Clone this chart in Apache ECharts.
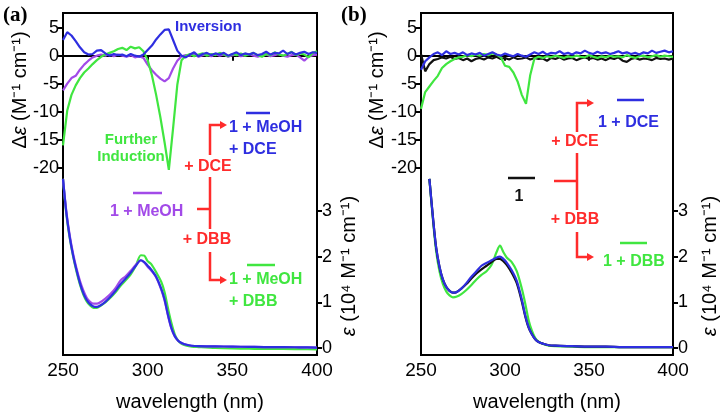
<!DOCTYPE html>
<html><head><meta charset="utf-8">
<script src="https://cdn.jsdelivr.net/npm/echarts@6/dist/echarts.min.js"></script>
<style>html,body{margin:0;padding:0;background:#fff}#c{width:721px;height:419px}</style>
</head><body><div id="c"></div>
<script>
// ---------- DATA ----------
const cdWl = [250,252.5,255,257.5,260,262.5,265,267.5,270,272.5,275,277.5,280,282.5,285,287.5,290,292.5,295,297.5,300,302.5,305,307.5,310,312.5,315,317.5,320,322.5,325,327.5,330,332.5,335,337.5,340,342.5,345,347.5,350,352.5,355,357.5,360,362.5,365,367.5,370,372.5,375,377.5,380,382.5,385,387.5,390,392.5,395,397.5,400];

// panel (a) CD
const cdA_MeOH = [-6.2,-5.0,-4.0,-3.6,-2.5,-1.6,-0.9,-0.3,0.0,0.2,0.0,0.3,-0.1,0.2,0.0,-0.2,0.1,-0.3,-0.1,-0.4,-1.6,-2.6,-3.4,-4.1,-4.6,-4.0,-2.3,-0.9,-0.1,0.1,0.0,0.3,-0.2,0.1,0.2,-0.1,0.3,0.0,0.2,-0.2,0.1,0.2,-0.1,0.1,0.3,0.0,-0.2,0.1,0.2,-0.1,0.1,0.3,0.0,-0.2,0.1,0.2,-0.3,-0.9,-0.2,0.1,0.2];
const cdA_DBB = [-16.0,-9.8,-7.0,-5.3,-4.0,-3.0,-2.3,-1.5,-0.8,-0.2,0.2,0.5,0.8,1.2,1.4,1.0,1.6,1.3,1.5,0.8,-0.8,-3.5,-7.0,-11.0,-15.5,-20.4,-13.0,-5.2,-0.8,0.0,0.3,-0.1,0.2,0.4,0.0,0.3,0.1,0.5,0.2,-0.1,0.3,0.1,0.4,0.0,0.2,0.5,0.1,-0.2,0.3,0.1,0.6,0.2,0.0,0.3,0.7,0.1,0.4,0.2,-0.3,0.5,0.8];
const cdA_DCE = [2.8,4.2,3.6,2.6,1.5,0.6,0.2,0.3,0.9,1.0,0.4,0.0,0.3,0.1,0.2,-0.1,0.3,0.0,-0.2,0.2,1.0,1.8,2.9,3.8,4.6,4.7,2.8,0.9,0.0,-0.3,0.2,0.6,-0.1,0.3,0.5,0.1,0.4,0.2,0.5,0.0,0.3,0.6,0.1,0.4,0.2,0.5,0.1,0.3,0.7,0.2,0.5,0.4,0.9,0.3,0.6,0.2,0.5,0.7,0.3,0.6,0.5];

// panel (b) CD
const cdB_1 = [0.3,-2.8,-1.5,-0.8,-0.6,-0.3,-0.5,-0.2,-0.6,-0.4,-0.8,-0.5,-1.0,-0.6,-0.4,-0.7,-0.3,-0.5,-0.2,-0.6,-0.4,-0.7,-0.3,-0.6,-0.5,-0.3,-0.7,-0.4,-0.6,-0.5,-0.9,-0.4,-0.6,-0.3,-0.7,-0.5,-0.4,-0.8,-0.5,-0.3,-0.6,-0.4,-0.7,-0.5,-0.8,-0.4,-0.6,-0.3,-0.9,-1.1,-0.6,-0.4,-0.7,-0.5,-0.6,-0.8,-0.4,-0.6,-0.5,-0.7,-0.5];
const cdB_DCE = [-2.5,-1.0,-0.3,0.3,0.6,0.1,0.8,0.3,0.5,0.2,0.6,0.1,0.4,0.2,0.5,0.0,0.3,0.6,0.2,0.0,0.4,0.1,-0.1,0.3,0.0,-0.2,0.2,0.6,0.3,0.7,0.2,0.5,0.4,0.8,0.3,0.5,0.2,0.6,0.4,0.9,0.5,0.3,0.7,0.4,0.6,0.3,0.5,0.8,0.4,0.6,0.3,0.5,0.2,0.6,0.4,0.9,0.5,0.7,0.9,0.6,0.8];
const cdB_DBB = [-9.5,-6.5,-5.5,-4.5,-3.6,-2.2,-1.5,-1.0,-0.6,-0.3,-0.2,0.1,-0.1,0.2,0.0,0.3,0.1,0.4,0.2,-0.3,-1.8,-2.0,-3.0,-4.6,-7.0,-8.6,-3.5,-0.5,-0.2,-0.4,-0.1,-0.3,0.0,-0.2,-0.4,-0.1,-0.3,0.0,-0.2,-0.3,0.1,-0.2,-0.4,-0.1,-0.3,0.0,-0.2,-0.1,-0.3,0.1,-0.2,-0.4,-0.1,0.0,-0.3,-0.1,0.1,-0.2,0.0,-0.1,-0.2];

// panel (a) absorption (10^4 M^-1 cm^-1)
const absWlA = [250,252,254,256,258,260,262,264,266,268,270,272,275,278,281,284,287,290,293,296,298,300,302,305,308,310,312,314,316,318,320,323,326,330,340,350,360,370,380,390,400];
const absA_DCE  = [3.7,2.95,2.42,2.02,1.7,1.42,1.2,1.05,0.96,0.91,0.9,0.93,1.01,1.12,1.25,1.4,1.52,1.65,1.8,1.92,1.88,1.8,1.72,1.56,1.3,1.06,0.72,0.44,0.26,0.16,0.11,0.07,0.05,0.04,0.035,0.03,0.025,0.02,0.02,0.015,0.01];
const absA_MeOH = [3.7,2.98,2.46,2.06,1.74,1.47,1.26,1.1,1.01,0.97,0.97,1.0,1.08,1.18,1.31,1.48,1.57,1.69,1.82,1.92,1.87,1.78,1.7,1.55,1.28,1.04,0.71,0.43,0.26,0.16,0.11,0.07,0.05,0.04,0.035,0.03,0.025,0.02,0.02,0.015,0.01];
const absA_DBB  = [3.7,2.92,2.4,2.0,1.67,1.39,1.17,1.02,0.93,0.88,0.88,0.92,1.0,1.1,1.22,1.36,1.48,1.61,1.8,2.03,2.02,1.9,1.84,1.66,1.45,1.22,0.87,0.55,0.3,0.16,0.09,0.05,0.03,0.02,0.0,-0.01,-0.015,-0.02,-0.02,-0.025,-0.03];

// panel (b) absorption
const absWlB = [255,257,259,261,263,265,267,269,271,274,277,280,283,286,289,292,295,297,299,301,304,307,310,312,314,316,318,320,323,326,330,340,350,360,370,380,390,400];
const absB_1   = [3.7,2.9,2.2,1.78,1.5,1.34,1.25,1.21,1.22,1.3,1.4,1.52,1.63,1.72,1.8,1.88,1.95,1.95,1.9,1.82,1.65,1.42,1.02,0.7,0.45,0.3,0.19,0.13,0.09,0.06,0.05,0.04,0.03,0.03,0.02,0.02,0.02,0.02];
const absB_DCE = [3.7,2.9,2.2,1.78,1.5,1.34,1.25,1.21,1.22,1.3,1.42,1.56,1.68,1.8,1.86,1.92,1.98,2.0,1.95,1.87,1.7,1.47,1.06,0.72,0.46,0.3,0.19,0.13,0.09,0.06,0.05,0.04,0.03,0.03,0.02,0.02,0.02,0.02];
const absB_DBB = [3.7,2.85,2.12,1.68,1.4,1.24,1.15,1.11,1.12,1.18,1.27,1.38,1.5,1.6,1.68,1.82,2.1,2.24,2.1,1.98,1.88,1.68,1.3,0.98,0.62,0.38,0.22,0.14,0.08,0.05,0.04,0.03,0.02,0.02,0.02,0.02,0.02,0.02];

// axis tick labels
const xTicks = [250,300,350,400];
const cdTicks = [-20,-15,-10,-5,0,5];
const absTicks = [0,1,2,3];

// ---------- CHART ----------
const zip = (xs, ys) => xs.map((x, i) => [x, ys[i]]);
const FONT = '"Liberation Sans", Arial, sans-serif';
const COL = {blue:'#2e2ee0', purple:'#a24ae8', green:'#40e640', red:'#ff2b2b', black:'#111111'};

const gridsPx = [{left:63, top:13, width:254, height:342}, {left:421, top:13, width:252, height:342}];

function xAxisFor(i){
  return {
    type:'value', gridIndex:i, min:250, max:400, interval:50,
    axisLine:{show:true, lineStyle:{color:'#000', width:2}},
    axisTick:{show:true, length:5, lineStyle:{color:'#000', width:2}},
    axisLabel:{color:'#000', fontSize:19, fontFamily:FONT, margin:6, customValues:xTicks},
    splitLine:{show:false},
    name:'wavelength (nm)', nameLocation:'middle', nameGap:37,
    nameTextStyle:{color:'#000', fontSize:20, fontFamily:FONT}
  };
}
function cdAxisFor(i){
  return {
    type:'value', gridIndex:i, position:'left', min:-53.45, max:7.62,
    axisLine:{show:true, lineStyle:{color:'#000', width:2}},
    axisTick:{show:true, length:5, lineStyle:{color:'#000', width:2}, customValues:cdTicks},
    axisLabel:{color:'#000', fontSize:18, fontFamily:FONT, margin:4, customValues:cdTicks},
    splitLine:{show:false}
  };
}
function absAxisFor(i){
  return {
    type:'value', gridIndex:i, position:'right', min:-0.153, max:7.33,
    axisLine:{show:true, lineStyle:{color:'#000', width:2}},
    axisTick:{show:true, length:5, lineStyle:{color:'#000', width:2}, customValues:absTicks},
    axisLabel:{color:'#000', fontSize:18, fontFamily:FONT, margin:5, customValues:absTicks},
    splitLine:{show:false}
  };
}
function line(name, xi, yi, data, color, smooth){
  return {name, type:'line', xAxisIndex:xi, yAxisIndex:yi, data, showSymbol:false,
    smooth: smooth ? 0.3 : false, lineStyle:{color, width:2.2}, itemStyle:{color}, animation:false, z:2};
}

const series = [
  line('1 + MeOH', 0, 0, zip(cdWl, cdA_MeOH), COL.purple),
  line('1 + MeOH + DBB', 0, 0, zip(cdWl, cdA_DBB), COL.green),
  line('1 + MeOH + DCE', 0, 0, zip(cdWl, cdA_DCE), COL.blue),
  line('1 + MeOH + DBB abs', 0, 1, zip(absWlA, absA_DBB), COL.green, true),
  line('1 + MeOH abs', 0, 1, zip(absWlA, absA_MeOH), COL.purple, true),
  line('1 + MeOH + DCE abs', 0, 1, zip(absWlA, absA_DCE), COL.blue, true),
  line('1', 1, 2, zip(cdWl, cdB_1), COL.black),
  line('1 + DBB', 1, 2, zip(cdWl, cdB_DBB), COL.green),
  line('1 + DCE', 1, 2, zip(cdWl, cdB_DCE), COL.blue),
  line('1 + DBB abs', 1, 3, zip(absWlB, absB_DBB), COL.green, true),
  line('1 abs', 1, 3, zip(absWlB, absB_1), COL.black, true),
  line('1 + DCE abs', 1, 3, zip(absWlB, absB_DCE), COL.blue, true)
];

// ---------- ANNOTATIONS ----------
const g = [];
function txt(x, y, text, color, size, opts){
  opts = opts || {};
  g.push({type:'text', x, y, rotation: opts.rot || 0, z:10,
    style:{text, fill:color, font:(opts.weight||'bold') + ' ' + size + 'px ' + (opts.family||FONT),
      align: opts.align || 'left', verticalAlign:'middle', rich: opts.rich}});
}
function seg(pts, color, w){
  g.push({type:'polyline', z:10, shape:{points:pts}, style:{stroke:color, lineWidth:w||2.5, fill:null}});
}
function arrowHead(x, y, color){
  g.push({type:'polygon', z:10, shape:{points:[[x-6,y-4],[x+1,y],[x-6,y+4]]}, style:{fill:color}});
}
function bracket(x, yTop, yTopEnd, yMidA, yMidB, yBotStart, yBot, stubX, stubY, arrowX, color){
  seg([[arrowX-3,yTop],[x,yTop],[x,yTopEnd]], color);
  seg([[x,yMidA],[x,yMidB]], color);
  seg([[x,yBotStart],[x,yBot],[arrowX-3,yBot]], color);
  seg([[stubX,stubY],[x,stubY]], color);
  arrowHead(arrowX, yTop, color);
  arrowHead(arrowX, yBot, color);
}
// rotated axis titles
const richY = {
  a:{fontSize:20, fontFamily:FONT, fill:'#000'},
  i:{fontSize:20, fontFamily:FONT, fontStyle:'italic', fill:'#000'}
};
function yTitles(xLeft, xRight){
  txt(xLeft, 90, '{a|Δ}{i|ε}{a| (M⁻¹ cm⁻¹)}', '#000', 20, {rot:Math.PI/2, align:'center', weight:'normal', rich:richY});
  txt(xRight, 266, '{i|ε}{a| (10⁴ M⁻¹ cm⁻¹)}', '#000', 20, {rot:Math.PI/2, align:'center', weight:'normal', rich:richY});
}
yTitles(20, 349);
yTitles(377, 710);

// panel labels
txt(3, 16, '(a)', '#000', 21, {family:'"Liberation Serif", "DejaVu Serif", serif'});
txt(341, 16, '(b)', '#000', 21, {family:'"Liberation Serif", "DejaVu Serif", serif'});

// panel (a) annotations
txt(175, 27, 'Inversion', COL.blue, 15);
txt(131, 140, 'Further', COL.green, 15, {align:'center'});
txt(131, 157, 'Induction', COL.green, 15, {align:'center'});
bracket(210, 125, 155, 177, 229, 252, 280, 197, 209, 226, COL.red);
txt(208, 167, '+ DCE', COL.red, 16, {align:'center'});
txt(207, 240, '+ DBB', COL.red, 16, {align:'center'});
seg([[246,113],[270,113]], COL.blue, 2.5);
txt(229, 128, '1 + MeOH', COL.blue, 16);
txt(229, 150, '+ DCE', COL.blue, 16);
seg([[133,193],[162,193]], COL.purple, 2.5);
txt(110, 212, '1 + MeOH', COL.purple, 16);
seg([[247,265],[275,265]], COL.green, 2.5);
txt(229, 280, '1 + MeOH', COL.green, 16);
txt(229, 302, '+ DBB', COL.green, 16);

// panel (b) annotations
bracket(577, 103, 132, 153, 210, 232, 257, 554, 181, 593, COL.red);
txt(575, 142, '+ DCE', COL.red, 16, {align:'center'});
txt(575, 220, '+ DBB', COL.red, 16, {align:'center'});
seg([[617,100],[644,100]], COL.blue, 2.5);
txt(598, 123, '1 + DCE', COL.blue, 16);
seg([[508,178],[535,178]], COL.black, 2.5);
txt(519, 197, '1', COL.black, 16, {align:'center'});
seg([[620,243],[647,243]], COL.green, 2.5);
txt(603, 262, '1 + DBB', COL.green, 16);

const chart = echarts.init(document.getElementById('c'), null, {renderer:'canvas'});
chart.setOption({
  animation:false,
  backgroundColor:'#fff',
  grid: gridsPx.map(p => Object.assign({show:true, borderColor:'#000', borderWidth:2, backgroundColor:'transparent'}, p)),
  xAxis:[xAxisFor(0), xAxisFor(1)],
  yAxis:[cdAxisFor(0), absAxisFor(0), cdAxisFor(1), absAxisFor(1)],
  series,
  graphic: g
});
</script>
</body></html>
